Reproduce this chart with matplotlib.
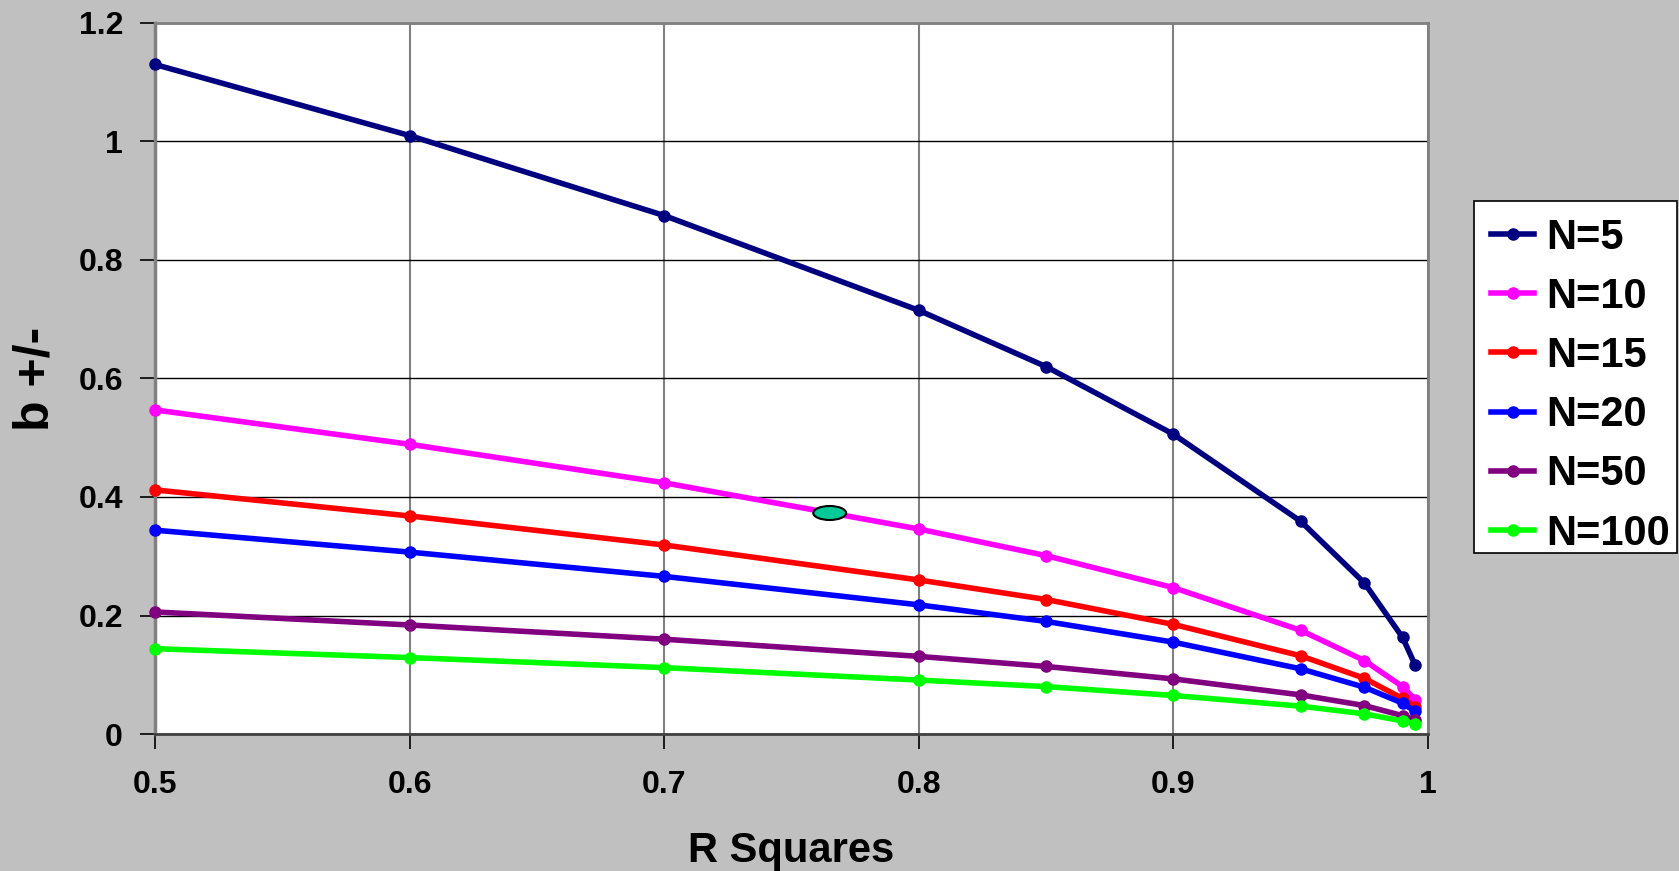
import matplotlib
matplotlib.use("Agg")
import matplotlib.pyplot as plt
from matplotlib.patches import Ellipse, Rectangle

plt.rcParams['font.family'] = ['Liberation Sans', 'DejaVu Sans']
plt.rcParams['font.weight'] = 'bold'

# R squared values along the x axis
r_squares = [0.5, 0.6, 0.7, 0.8, 0.85, 0.9, 0.95, 0.975, 0.99, 0.995]

# b +/- interval width for each sample size
n5 = [1.130, 1.010, 0.875, 0.715, 0.620, 0.506, 0.359, 0.255, 0.163, 0.116]
n10 = [0.547, 0.489, 0.424, 0.346, 0.301, 0.247, 0.175, 0.124, 0.080, 0.058]
n15 = [0.412, 0.368, 0.319, 0.260, 0.227, 0.185, 0.132, 0.094, 0.060, 0.046]
n20 = [0.344, 0.307, 0.266, 0.218, 0.190, 0.155, 0.110, 0.079, 0.052, 0.038]
n50 = [0.206, 0.184, 0.160, 0.131, 0.114, 0.093, 0.066, 0.048, 0.031, 0.024]
n100 = [0.144, 0.129, 0.112, 0.091, 0.080, 0.065, 0.047, 0.034, 0.022, 0.017]

series_labels = ['N=5', 'N=10', 'N=15', 'N=20', 'N=50', 'N=100']
series_values = [n5, n10, n15, n20, n50, n100]
series_colors = ['#000080', '#FF00FF', '#FF0000', '#0000FF', '#800080', '#00FF00']

# highlighted point on the N=10 curve
highlight_x = 0.765
highlight_y = 0.373

x_ticks = [0.5, 0.6, 0.7, 0.8, 0.9, 1.0]
x_tick_labels = ['0.5', '0.6', '0.7', '0.8', '0.9', '1']
y_ticks = [0, 0.2, 0.4, 0.6, 0.8, 1.0, 1.2]
y_tick_labels = ['0', '0.2', '0.4', '0.6', '0.8', '1', '1.2']

W, H = 1679, 871
fig = plt.figure(figsize=(W / 100, H / 100), dpi=100, facecolor='#C0C0C0')
ax = fig.add_axes([155 / W, 1 - 734 / H, (1428 - 155) / W, (734 - 23) / H])
ax.set_facecolor('white')

ax.set_xlim(0.5, 1.0)
ax.set_ylim(0, 1.2)

for label, vals, color in zip(series_labels, series_values, series_colors):
    ax.plot(r_squares, vals, color=color, lw=4.0, marker='o', markersize=8,
            markeredgecolor=color, label=label, clip_on=False, zorder=3)

ax.add_patch(Ellipse((highlight_x, highlight_y), width=0.0129, height=0.0236,
                     facecolor='#00C896', edgecolor='black', lw=1.5, zorder=5))

ax.set_xticks(x_ticks)
ax.set_xticklabels(x_tick_labels)
ax.set_yticks(y_ticks)
ax.set_yticklabels(y_tick_labels)
ax.tick_params(axis='x', direction='out', length=11, width=1.2, color='black',
               labelsize=23, pad=15)
ax.tick_params(axis='y', direction='out', length=11, width=1.2, color='black',
               labelsize=23, pad=12)

ax.grid(axis='y', color='black', lw=1.0, zorder=1)
ax.grid(axis='x', color='#808080', lw=1.5, zorder=1)
ax.set_axisbelow(True)

for side in ['top', 'right']:
    ax.spines[side].set_color('#808080')
    ax.spines[side].set_linewidth(2)
ax.spines['left'].set_color('#808080')
ax.spines['left'].set_linewidth(2.5)
ax.spines['bottom'].set_color('#404040')
ax.spines['bottom'].set_linewidth(2)

ax.set_xlabel('R Squares', fontsize=30, fontweight='bold', labelpad=22)
ax.set_ylabel('b +/-', fontsize=36, fontweight='bold', labelpad=14)

# legend box drawn as its own frame
legend_box = Rectangle((1474 / W, 1 - 553 / H), (1677 - 1474) / W, (553 - 201) / H,
                       transform=fig.transFigure, facecolor='white',
                       edgecolor='black', lw=1.2, zorder=4)
fig.add_artist(legend_box)

leg = fig.legend(loc='upper left', bbox_to_anchor=(1474 / W, 1 - 201 / H),
                 frameon=False, handlelength=1.05,
                 handletextpad=0.28, labelspacing=0.46, borderpad=0.4,
                 borderaxespad=0, prop={'weight': 'bold', 'size': 30})
leg.set_zorder(5)
for h in leg.legend_handles:
    h.set_linewidth(4.0)

fig.savefig('out.png', dpi=100, facecolor=fig.get_facecolor())
